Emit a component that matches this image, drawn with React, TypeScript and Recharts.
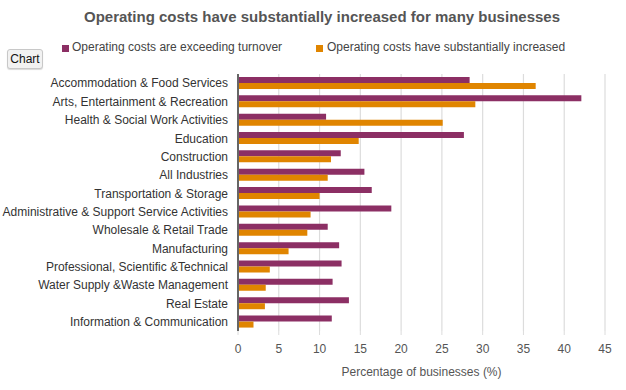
import { Bar, BarChart, CartesianGrid, XAxis, YAxis } from "recharts";

const categories = [
  "Accommodation & Food Services",
  "Arts, Entertainment & Recreation",
  "Health & Social Work Activities",
  "Education",
  "Construction",
  "All Industries",
  "Transportation & Storage",
  "Administrative & Support Service Activities",
  "Wholesale & Retail Trade",
  "Manufacturing",
  "Professional, Scientific &Technical",
  "Water Supply &Waste Management",
  "Real Estate",
  "Information & Communication",
];

const exceedingTurnover = [28.4, 42.1, 10.8, 27.7, 12.6, 15.5, 16.4, 18.8, 11.0, 12.4, 12.7, 11.6, 13.6, 11.5];
const substantiallyIncreased = [36.5, 29.1, 25.1, 14.8, 11.4, 11.0, 10.0, 8.9, 8.5, 6.2, 3.9, 3.4, 3.3, 1.9];

const xTicks = [0, 5, 10, 15, 20, 25, 30, 35, 40, 45];

const seriesNames = ["Operating costs are exceeding turnover", "Operating costs have substantially increased"];

const PURPLE = "#8c2f64";
const ORANGE = "#e08500";
const FONT = "'Liberation Sans', Arial, Helvetica, sans-serif";

const data = categories.map((name, i) => ({
  name,
  exceeding: exceedingTurnover[i],
  increased: substantiallyIncreased[i],
}));

// single-line category label (the default tick wraps long names)
function CategoryTick({ x, y, payload }: any) {
  return (
    <text x={x} y={y} dy="0.355em" textAnchor="end" fontSize={12} fill="#333" fontFamily={FONT}>
      {payload.value}
    </text>
  );
}

export default function App() {
  return (
    <div
      style={{
        position: "absolute",
        top: 0,
        left: 0,
        width: 626,
        height: 390,
        background: "#fff",
        fontFamily: FONT,
      }}
    >
      <div
        style={{
          position: "absolute",
          left: 84,
          top: 8,
          lineHeight: "18px",
          fontSize: 15,
          fontWeight: 700,
          color: "#555",
          whiteSpace: "nowrap",
        }}
      >
        Operating costs have substantially increased for many businesses
      </div>

      {/* legend */}
      <div style={{ position: "absolute", left: 62, top: 45, width: 7, height: 7, background: PURPLE }} />
      <div style={{ position: "absolute", left: 72, top: 40, fontSize: 12, lineHeight: "15px", color: "#444", whiteSpace: "nowrap" }}>
        {seriesNames[0]}
      </div>
      <div style={{ position: "absolute", left: 316, top: 45, width: 7, height: 7, background: ORANGE }} />
      <div style={{ position: "absolute", left: 327, top: 40, fontSize: 12, lineHeight: "15px", color: "#444", whiteSpace: "nowrap" }}>
        {seriesNames[1]}
      </div>

      <button
        style={{
          position: "absolute",
          left: 7,
          top: 49,
          width: 36,
          height: 20,
          padding: 0,
          fontSize: 12,
          fontFamily: FONT,
          color: "#111",
          background: "#f2f2f2",
          border: "1px solid #c8c8c8",
          borderRadius: 3,
          boxShadow: "0 1px 1px rgba(0,0,0,0.15)",
          zIndex: 2,
        }}
      >
        Chart
      </button>

      <BarChart
        width={626}
        height={390}
        data={data}
        layout="vertical"
        margin={{ top: 74, right: 21, bottom: 0, left: 0 }}
        barCategoryGap="16%"
        barGap={0}
      >
        <CartesianGrid horizontal={false} stroke="#dcdcdc" strokeWidth={1.2} />
        <XAxis
          type="number"
          domain={[0, 45]}
          ticks={xTicks}
          height={59}
          axisLine={false}
          tickLine={{ stroke: "#dcdcdc" }}
          tickSize={4}
          tickMargin={9}
          tick={{ fontSize: 12, fill: "#555", fontFamily: FONT }}
          label={{
            value: "Percentage of businesses (%)",
            position: "insideBottom",
            offset: 14,
            style: { fontSize: 12, fill: "#555", fontFamily: FONT },
          }}
        />
        <YAxis
          type="category"
          dataKey="name"
          width={238}
          interval={0}
          tickLine={false}
          tickMargin={4}
          axisLine={{ stroke: "#666", strokeWidth: 2 }}
          tick={<CategoryTick />}
        />
        <Bar dataKey="exceeding" name={seriesNames[0]} fill={PURPLE} isAnimationActive={false} />
        <Bar dataKey="increased" name={seriesNames[1]} fill={ORANGE} isAnimationActive={false} />
      </BarChart>
    </div>
  );
}
